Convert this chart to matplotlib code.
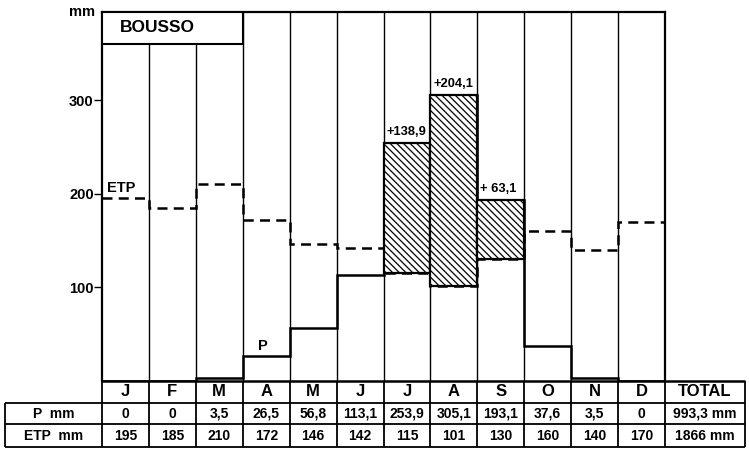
import numpy as np
import matplotlib
matplotlib.use("Agg")
import matplotlib.pyplot as plt
from matplotlib.patches import Rectangle

plt.rcParams['font.family'] = 'Liberation Sans'
plt.rcParams['font.weight'] = 'bold'
plt.rcParams['hatch.linewidth'] = 0.9

station = "BOUSSO"
months = ["J", "F", "M", "A", "M", "J", "J", "A", "S", "O", "N", "D"]
P = np.array([0, 0, 3.5, 26.5, 56.8, 113.1, 253.9, 305.1, 193.1, 37.6, 3.5, 0])
ETP = np.array([195, 185, 210, 172, 146, 142, 115, 101, 130, 160, 140, 170])
totals = ["993,3 mm", "1866 mm"]
row_labels = ["P  mm", "ETP  mm"]
yticks = [100, 200, 300]


def fmt(v):
    if v == 0:
        return "0"
    return ("%.1f" % v).replace(".", ",")


W, H = 749, 455
fig = plt.figure(figsize=(W / 100, H / 100), dpi=100)

# pixel layout
x0, x1 = 102, 665
ybase, ytop = 381, 12
ymax = 394
ax = fig.add_axes([x0 / W, 1 - ybase / H, (x1 - x0) / W, (ybase - ytop) / H])
ax.set_xlim(0, 12)
ax.set_ylim(0, ymax)

edges = np.arange(13)
# month separators (under the title box for the first three)
box_bottom = 360
for i in range(1, 12):
    ax.vlines(i, 0, box_bottom if i < 3 else ymax, color="black", lw=1.0)

# ETP dashed and P solid step lines
ax.stairs(ETP, edges, color="black", lw=1.8, linestyle=(0, (4, 2.5)), baseline=None)
ax.stairs(P, edges, color="black", lw=1.8, baseline=None)

# excess P over ETP, hatched
surplus = P > ETP
xs = np.arange(12) + 0.5
ax.bar(xs[surplus], (P - ETP)[surplus], bottom=ETP[surplus], width=1.0,
       facecolor="white", edgecolor="black", lw=1.6, hatch="\\" * 5, zorder=3)
for i in np.where(surplus)[0]:
    d = P[i] - ETP[i]
    lab = "+" + fmt(d) if d >= 100 else "+ " + fmt(d)
    ax.text(i + 0.06, P[i] + 6, lab, fontsize=9.3, ha="left", va="bottom")

# title box
ax.add_patch(Rectangle((0, box_bottom), 3, ymax - box_bottom, facecolor="white",
                       edgecolor="black", lw=1.5, zorder=4))
ax.text(0.38, (box_bottom + ymax) / 2, station, fontsize=12.5, ha="left",
        va="center", zorder=5)

ax.text(0.1, 199, "ETP", fontsize=10.5, ha="left", va="bottom")
ax.text(3.43, 30, "P", fontsize=10.5, ha="center", va="bottom")

ax.set_xticks([])
ax.set_yticks(yticks)
ax.set_yticklabels([str(t) for t in yticks], fontsize=10.5, fontweight="bold")
ax.tick_params(axis="y", length=6, width=1.0, pad=0)
ax.text(-0.7, ymax, "mm", fontsize=10.5, ha="left", va="center", clip_on=False)
for s in ["left", "top", "right"]:
    ax.spines[s].set_linewidth(1.6)
ax.spines["bottom"].set_visible(False)

# table in pixel coordinates
tab = fig.add_axes([0, 0, 1, 1])
tab.set_xlim(0, W)
tab.set_ylim(H, 0)
tab.axis("off")
tab.patch.set_alpha(0)
xr = 745
xl = 5
rows = [381, 403, 424, 447]
cw = (x1 - x0) / 12
lw = 1.3
tab.hlines(rows[0], x0, xr, color="black", lw=1.8)
for y in rows[1:]:
    tab.hlines(y, xl, xr, color="black", lw=lw)
tab.vlines(xl, rows[1], rows[3], color="black", lw=lw)
for k in range(13):
    tab.vlines(x0 + k * cw, rows[0], rows[3], color="black", lw=lw)
tab.vlines(xr, rows[0], rows[3], color="black", lw=lw)

mid = [(rows[k] + rows[k + 1]) / 2 for k in range(3)]
for k, m in enumerate(months):
    cx = x0 + (k + 0.5) * cw
    tab.text(cx, mid[0], m, fontsize=12, ha="center", va="center")
    tab.text(cx, mid[1], fmt(P[k]), fontsize=10, ha="center", va="center")
    tab.text(cx, mid[2], str(ETP[k]), fontsize=10, ha="center", va="center")
tx = (x1 + xr) / 2
tab.text(tx, mid[0], "TOTAL", fontsize=12, ha="center", va="center")
tab.text(tx, mid[1], totals[0], fontsize=10, ha="center", va="center")
tab.text(tx, mid[2], totals[1], fontsize=10, ha="center", va="center")
for k, lab in enumerate(row_labels):
    tab.text((xl + x0) / 2, mid[k + 1], lab, fontsize=10, ha="center", va="center")

fig.savefig("out.png", dpi=100)
